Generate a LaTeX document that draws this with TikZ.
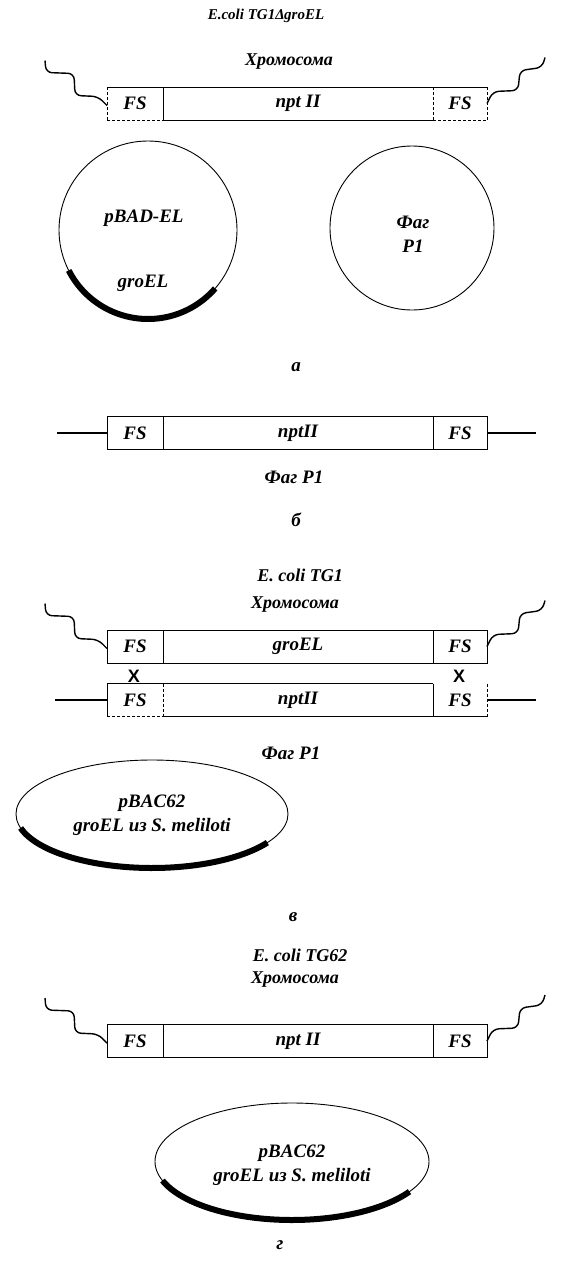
\documentclass[tikz,border=0pt]{standalone}
\usepackage{fontspec}
\setmainfont{Liberation Serif}
\newfontfamily\xmarkfont{Liberation Sans}
\usetikzlibrary{shapes.geometric}
\tikzset{
  sq/.style={line width=1.4pt, rounded corners=6pt},
  lsq/.pic={\draw[sq] (0,2) -- (-9,-7) -- (-32,-8) -- (-33,-30) -- (-61,-31) -- (-62,-43);},
  rsq/.pic={\draw[sq] (0,0) -- (6,-12) -- (31,-13) -- (33,-33) -- (55,-36) -- (58,-46);}
}
\begin{document}
\begin{tikzpicture}[x=1pt,y=-1pt,
  txt/.style={font=\fontsize{19}{22}\selectfont\bfseries\itshape, inner sep=0pt},
  ttl/.style={font=\fontsize{18}{21}\selectfont\bfseries\itshape, inner sep=0pt},
  seg/.style={minimum height=33pt, inner sep=0pt, outer sep=0pt, font=\fontsize{19}{22}\selectfont\bfseries\itshape},
  segd/.style={seg, draw, line width=1pt},
  ln/.style={line width=1pt},
  thinline/.style={line width=0.9pt},
  gene/.style={line width=6pt},
  xm/.style={font=\xmarkfont\bfseries\fontsize{18}{20}\selectfont, inner sep=0pt}
]
\useasboundingbox[fill=white] (0,0) rectangle (560,1274);

% ---------- a ----------
\node[ttl, font=\fontsize{15}{17}\selectfont\bfseries\itshape] (tA) at (266,16) {E.coli TG1Δ\kern-0.5pt groEL};
\node[ttl] (chA) at (289,62) {Хромосома};
\node[seg, minimum width=56pt] (a1) at (135,103.5) {FS};
\node[seg, minimum width=270pt] (a2) at (298,103.5) {npt II};
\node[seg, minimum width=54pt] (a3) at (460,103.5) {FS};
\draw[ln] (a1.north west) -- (a3.north east);
\draw[ln] (a2.south west) -- (a2.south east);
\draw[ln, densely dashed] (a1.south west) -- (a1.south east);
\draw[ln, densely dashed] (a3.south west) -- (a3.south east);
\draw[ln, densely dashed] (a1.north west) -- (a1.south west);
\draw[ln] (a2.north west) -- (a2.south west);
\draw[ln, densely dashed] (a2.north east) -- (a2.south east);
\draw[ln, densely dashed] (a3.north east) -- (a3.south east);
\pic at (a1.west) {lsq};
\pic at (a3.east) {rsq};

\node[draw, thinline, circle, minimum size=178pt, inner sep=0pt] (pbad) at (148,230) {};
\draw[gene] plot[domain=41:153, samples=60] ({148+89*cos(\x)},{230+89*sin(\x)});
\node[txt] (pbadT) at (144,218) {pBAD-EL};
\node[txt] (groA) at (143,283) {groEL};
\node[draw, thinline, circle, minimum size=164pt, inner sep=0pt] (p1c) at (412,228) {};
\node[txt] (fagA) at (413,222) {Фаг};
\node[txt] (p1A) at (413,246) {P1};
\node[txt] (labA) at (296,367) {а};

% ---------- b ----------
\node[segd, minimum width=56pt] (b1) at (135,433) {FS};
\node[segd, minimum width=270pt] (b2) at (298,433) {nptII};
\node[segd, minimum width=54pt] (b3) at (460,433) {FS};
\coordinate (bL) at (57,433);
\coordinate (bR) at (536,433);
\draw[line width=1.3pt] (bL) -- (b1.west);
\draw[line width=1.3pt] (b3.east) -- (bR);
\node[txt] (fagB) at (294,477) {Фаг P1};
\node[txt] (labB) at (296,520) {б};

% ---------- v ----------
\node[ttl] (tV) at (300,575) {E. coli TG1};
\node[ttl] (chV) at (295,605) {Хромосома};
\node[segd, minimum width=56pt] (v1) at (135,646.5) {FS};
\node[segd, minimum width=270pt] (v2) at (298,646.5) {groEL};
\node[segd, minimum width=54pt] (v3) at (460,646.5) {FS};
\pic at (v1.west) {lsq};
\pic at (v3.east) {rsq};
\node[xm] (x1) at (134,676) {X};
\node[xm] (x2) at (459,676) {X};
\node[seg, minimum width=56pt] (w1) at (135,700) {FS};
\node[seg, minimum width=270pt] (w2) at (298,700) {nptII};
\node[seg, minimum width=54pt] (w3) at (460,700) {FS};
\draw[ln] (w1.north west) -- (w2.north east);
\draw[ln] (w1.north west) -- (w1.south west);
\draw[ln, densely dashed] (w1.south west) -- (w1.south east);
\draw[ln] (w2.south west) -- (w3.south east);
\draw[ln, densely dashed] (w2.north west) -- (w2.south west);
\draw[ln] (w2.north east) -- (w2.south east);
\draw[ln, densely dashed] (w3.north east) -- (w3.south east);
\coordinate (wL) at (55,700);
\coordinate (wR) at (536,700);
\draw[line width=1.3pt] (wL) -- (w1.west);
\draw[line width=1.3pt] (w3.east) -- (wR);
\node[txt] (fagV) at (291,753) {Фаг P1};
\node[draw, thinline, ellipse, minimum width=272pt, minimum height=108pt, inner sep=0pt] (elV) at (152,814) {};
\draw[gene] plot[domain=32:165, samples=60] ({152+136*cos(\x)},{814+54*sin(\x)});
\node[txt, align=center] (elVT) at (152,815) {pBAC62\\[2pt]groEL из S. meliloti};
\node[txt] (labV) at (293,917) {в};

% ---------- g ----------
\node[ttl] (tG) at (300,955) {E. coli TG62};
\node[ttl] (chG) at (295,980) {Хромосома};
\node[segd, minimum width=56pt] (g1) at (135,1041) {FS};
\node[segd, minimum width=270pt] (g2) at (298,1041) {npt II};
\node[segd, minimum width=54pt] (g3) at (460,1041) {FS};
\pic at (g1.west) {lsq};
\pic at (g3.east) {rsq};
\node[draw, thinline, ellipse, minimum width=274pt, minimum height=117pt, inner sep=0pt] (elG) at (292,1161.5) {};
\draw[gene] plot[domain=31:161, samples=60] ({292+137*cos(\x)},{1161.5+58.5*sin(\x)});
\node[txt, align=center] (elGT) at (292,1165) {pBAC62\\[2pt]groEL из S. meliloti};
\node[txt] (labG) at (280,1245) {г};
\end{tikzpicture}
\end{document}
